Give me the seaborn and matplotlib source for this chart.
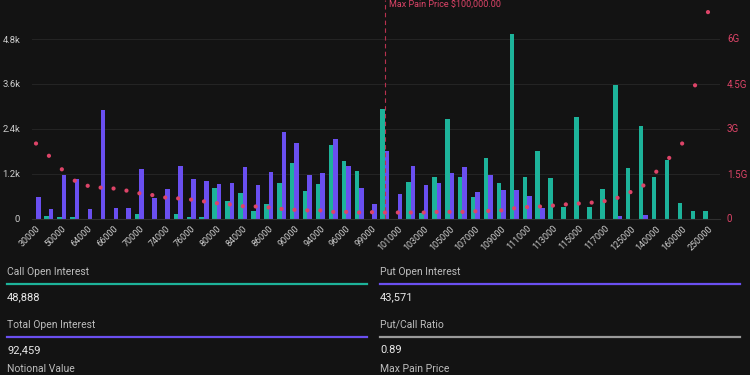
import numpy as np
import pandas as pd
import matplotlib
matplotlib.use("Agg")
import matplotlib.pyplot as plt
from matplotlib.lines import Line2D
import seaborn as sns

# === Data ===
strikes = [30000, 40000, 50000, 60000, 64000, 65000, 66000, 68000, 70000, 72000,
           74000, 75000, 76000, 78000, 80000, 82000, 84000, 85000, 86000, 88000,
           90000, 92000, 94000, 95000, 96000, 98000, 99000, 100000, 101000, 102000,
           103000, 104000, 105000, 106000, 107000, 108000, 109000, 110000, 111000, 112000,
           113000, 114000, 115000, 116000, 117000, 120000, 125000, 130000, 140000, 150000,
           160000, 200000, 250000]

call_oi = [0, 67, 27, 50, 0, 0, 0, 0, 113, 0,
           0, 113, 50, 30, 827, 461, 685, 210, 381, 945,
           1482, 747, 918, 1973, 1525, 1275, 0, 2932, 0, 980,
           156, 1106, 2663, 1106, 577, 1624, 962, 4927, 1123, 1794,
           1079, 300, 2717, 317, 792, 3558, 1348, 2465, 1106, 1552,
           424, 201, 201]

put_oi = [569, 255, 1168, 1060, 247, 2913, 282, 282, 1329, 550,
          792, 1391, 1060, 998, 934, 945, 1374, 900, 1248, 2322,
          2019, 1168, 1230, 2135, 1391, 827, 397, 1794, 666, 1391,
          900, 945, 1213, 1374, 711, 1150, 765, 765, 604, 291,
          0, 0, 0, 0, 0, 67, 0, 94, 0, 0,
          0, 0, 0]

# notional value in billions (G)
notional = [2.5, 2.09, 1.64, 1.26, 1.09, 1.03, 1.0, 0.93, 0.84, 0.78,
            0.70, 0.67, 0.63, 0.57, 0.51, 0.47, 0.41, 0.40, 0.37, 0.32,
            0.29, 0.27, 0.27, 0.22, 0.22, 0.20, 0.21, 0.20, 0.20, 0.20,
            0.20, 0.22, 0.22, 0.22, 0.24, 0.25, 0.27, 0.34, 0.38, 0.40,
            0.43, 0.47, 0.50, 0.53, 0.58, 0.69, 0.88, 1.10, 1.56, 2.02,
            2.50, 4.44, 6.88]

max_pain = 100000
max_pain_label = "Max Pain Price $100,000.00"

left_ticks = [0, 1200, 2400, 3600, 4800]
left_labels = ["0", "1.2k", "2.4k", "3.6k", "4.8k"]
right_ticks = [0, 1.5, 3, 4.5, 6]
right_labels = ["0", "1.5G", "3G", "4.5G", "6G"]

stat_names = ["Call Open Interest", "Put Open Interest", "Total Open Interest", "Put/Call Ratio"]
stat_values = ["48,888", "43,571", "92,459", "0.89"]
footer_names = ["Notional Value", "Max Pain Price"]

# === Colours ===
bg = "#131313"
teal = "#1db39a"
purple = "#6a4ff0"
red = "#dd4468"
grid = "#252525"
tick_col = "#cdcdcd"

plt.rcParams["font.family"] = ["Roboto", "DejaVu Sans"]

labels = [str(s) for s in strikes]
df = pd.DataFrame({
    "strike": labels * 2,
    "oi": call_oi + put_oi,
    "side": ["Call"] * len(labels) + ["Put"] * len(labels),
})

fig = plt.figure(figsize=(7.5, 3.75), dpi=100, facecolor=bg)
ax = fig.add_axes([32 / 750, 1 - 218.5 / 375, (720 - 32) / 750, 218.5 / 375])
ax.set_facecolor(bg)

sns.barplot(data=df, x="strike", y="oi", hue="side", order=labels,
            hue_order=["Call", "Put"], palette={"Call": teal, "Put": purple},
            width=0.7, saturation=1, legend=False, ax=ax, zorder=2)

ax.set_xlim(-0.31, len(labels) - 1 + 0.93)
ax.set_ylim(0, 5843)
ax.set_yticks(left_ticks)
ax.set_yticklabels(left_labels)
ax.yaxis.grid(True, color=grid, lw=0.7, zorder=0)
ax.set_axisbelow(True)
ax.tick_params(axis="y", length=0, pad=8.5, labelsize=6.8, labelcolor=tick_col)

pos = np.arange(len(labels))
ax.set_xticks(pos[::2])
ax.set_xticklabels(labels[::2], rotation=45, ha="right", rotation_mode="anchor")
ax.tick_params(axis="x", length=0, pad=4, labelsize=6.5, labelcolor=tick_col)
ax.set_xlabel("")
ax.set_ylabel("")
for side in ["top", "left", "right"]:
    ax.spines[side].set_visible(False)
ax.spines["bottom"].set_color("#303030")
ax.spines["bottom"].set_linewidth(0.8)

# notional value dots on a second axis
ax2 = ax.twinx()
sns.scatterplot(x=pos, y=notional, ax=ax2, color=red, s=9, edgecolor="none", zorder=3)
ax2.set_ylim(0, 218.5 / 30)
ax2.set_yticks(right_ticks)
ax2.set_yticklabels(right_labels)
ax2.tick_params(axis="y", length=0, pad=5, labelsize=7, labelcolor=red)
for side in ["top", "left", "right", "bottom"]:
    ax2.spines[side].set_visible(False)

# max pain marker
mp = labels.index(str(max_pain))
ax.axvline(mp, color="#b8324f", lw=0.8, ls=(0, (4, 3)), zorder=4)
ax.text(mp + 0.3, 0.998, max_pain_label, transform=ax.get_xaxis_transform(),
        color=red, fontsize=6.5, va="top", ha="left", clip_on=False)

# === Stats panel below the chart ===
def fy(px):
    return 1 - px / 375

line_cols = [teal, purple, purple, "#9a9a9a"]
cols_x = [7, 380]
rows_y = [272, 325]
for k, (name, val) in enumerate(zip(stat_names, stat_values)):
    cx = cols_x[k % 2]
    ry = rows_y[k // 2]
    fig.text(cx / 750, fy(ry), name, color="#bdbdbd", fontsize=7.5, va="center", ha="left")
    fig.add_artist(Line2D([cx / 750, (cx + 360) / 750], [fy(ry + 12), fy(ry + 12)],
                          color=line_cols[k], lw=1.6, transform=fig.transFigure))
    fig.text(cx / 750, fy(ry + 25), val, color="#e8e8e8", fontsize=8, va="center", ha="left")

for k, name in enumerate(footer_names):
    fig.text(cols_x[k] / 750, fy(374.5), name, color="#bdbdbd", fontsize=7.5, va="bottom", ha="left")

fig.savefig("out.png", dpi=100, facecolor=bg)
